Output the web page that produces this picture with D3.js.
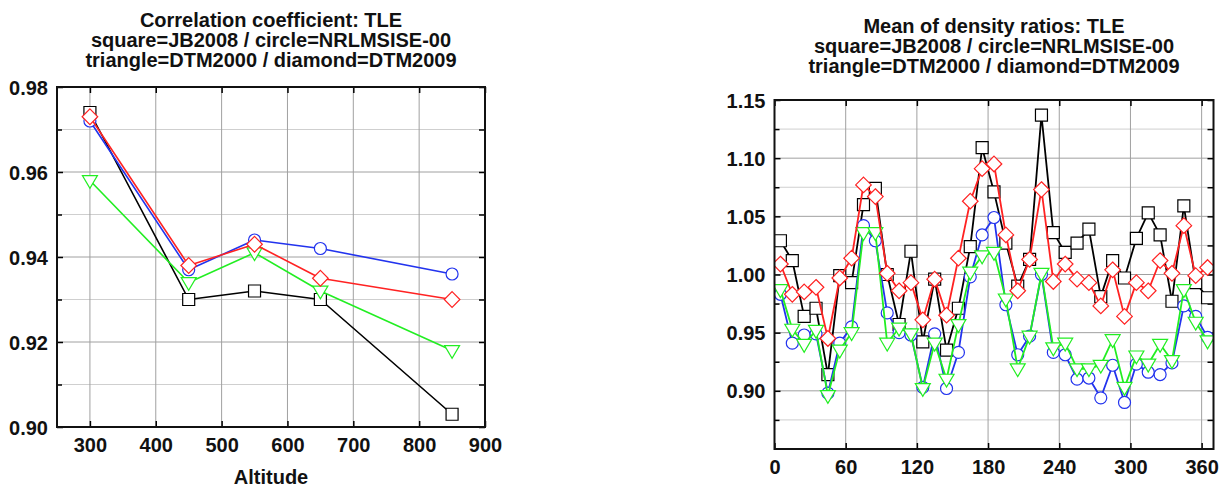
<!DOCTYPE html>
<html><head><meta charset="utf-8">
<script src="https://cdn.jsdelivr.net/npm/d3@7"></script>
<style>
body{margin:0;background:#fff;}
text{font-family:"Liberation Sans",Arial,Helvetica,sans-serif;font-weight:bold;fill:#111;}
</style></head><body>
<svg id="c" width="1224" height="488"></svg>
<script>
// ---- Left chart data: correlation coefficient vs altitude ----
const altitudes = [300, 450, 550, 650, 850];
const corrJB2008 = [0.974, 0.930, 0.932, 0.930, 0.903];
const corrNRLMSISE = [0.972, 0.937, 0.944, 0.942, 0.936];
const corrDTM2000 = [0.958, 0.934, 0.941, 0.932, 0.918];
const corrDTM2009 = [0.973, 0.938, 0.943, 0.935, 0.930];
const leftXTicks = [300, 400, 500, 600, 700, 800, 900];
const leftYTicks = [0.90, 0.92, 0.94, 0.96, 0.98];
const leftYMinor = [0.91, 0.93, 0.95, 0.97];

// ---- Right chart data: mean of density ratios vs angle ----
const angles = [5,15,25,35,45,55,65,75,85,95,105,115,125,135,145,155,165,175,185,195,205,215,225,235,245,255,265,275,285,295,305,315,325,335,345,355,365];
const ratioJB2008 = [1.029,1.012,0.964,0.971,0.914,0.999,0.993,1.060,1.074,1.000,0.957,1.020,0.942,0.996,0.935,0.971,1.024,1.109,1.071,1.027,0.990,1.013,1.137,1.036,1.019,1.027,1.039,0.981,1.012,0.997,1.031,1.053,1.034,0.977,1.059,0.993,0.980];
const ratioNRLMSISE = [0.983,0.941,0.948,0.949,0.898,0.941,0.955,1.042,1.029,0.967,0.950,0.948,0.903,0.949,0.902,0.933,0.998,1.034,1.049,0.974,0.931,0.947,1.000,0.933,0.931,0.910,0.911,0.894,0.922,0.890,0.923,0.916,0.914,0.924,0.973,0.964,0.946];
const ratioDTM2000 = [0.987,0.953,0.940,0.952,0.896,0.935,0.950,1.036,1.036,0.941,0.954,0.949,0.902,0.941,0.910,0.957,1.002,1.016,1.019,0.979,0.919,0.947,1.001,0.937,0.941,0.919,0.919,0.922,0.944,0.903,0.930,0.923,0.940,0.926,0.987,0.959,0.943];
const ratioDTM2009 = [1.009,0.983,0.985,0.989,0.945,0.997,1.014,1.077,1.067,1.001,0.986,0.993,0.961,0.996,0.965,1.014,1.063,1.091,1.095,1.034,0.986,1.013,1.073,0.994,1.009,0.996,0.993,0.973,1.004,0.964,0.993,0.986,1.012,1.001,1.042,0.999,1.006];
const rightXTicks = [0, 60, 120, 180, 240, 300, 360];
const rightYTicks = [0.90, 0.95, 1.00, 1.05, 1.10, 1.15];
const rightYMinor = [0.875, 0.925, 0.975, 1.025, 1.075, 1.125];

const titleLines = ["square=JB2008 / circle=NRLMSISE-00", "triangle=DTM2000 / diamond=DTM2009"];

const svg = d3.select("#c");

// marker shapes
function markerPath(shape, s) {
  if (shape === "square") return `M${-s},${-s}H${s}V${s}H${-s}Z`;
  if (shape === "circle") return `M${s},0A${s},${s} 0 1,1 ${-s},0A${s},${s} 0 1,1 ${s},0Z`;
  if (shape === "diamond") { const r = s * 1.3; return `M0,${-r}L${r},0L0,${r}L${-r},0Z`; }
  if (shape === "tri") { const w = s * 1.25, h = s * 1.1; return `M${-w},${-h*0.75}L${w},${-h*0.75}L0,${h*1.2}Z`; }
}

function drawPanel(opt) {
  const x = d3.scaleLinear().domain(opt.xDomain).range(opt.xRange);
  const y = d3.scaleLinear().domain(opt.yDomain).range(opt.yRange);
  const [x0, x1] = opt.xRange, [y0, y1] = opt.yRange; // y0 bottom, y1 top
  const g = svg.append("g");

  g.append("g").selectAll("line").data(opt.yMinor).join("line")
    .attr("x1", x0).attr("x2", x1).attr("y1", d => y(d)).attr("y2", d => y(d))
    .attr("stroke", "#cfcfcf").attr("stroke-width", 1);
  g.append("g").selectAll("line").data(opt.yTicks).join("line")
    .attr("x1", x0).attr("x2", x1).attr("y1", d => y(d)).attr("y2", d => y(d))
    .attr("stroke", "#a0a0a0").attr("stroke-width", 1);
  g.append("g").selectAll("line").data(opt.xTicks).join("line")
    .attr("x1", d => x(d)).attr("x2", d => x(d)).attr("y1", y0).attr("y2", y1)
    .attr("stroke", "#a0a0a0").attr("stroke-width", 1);

  const tickStyle = s => s.call(a => a.select(".domain").remove())
    .call(a => a.selectAll("line").attr("stroke", "#000").attr("stroke-width", 1.5));
  const yAll = opt.yTicks.concat(opt.yMinor);
  g.append("g").attr("transform", `translate(0,${y0})`)
    .call(d3.axisBottom(x).tickValues(opt.xTicks).tickSize(-6).tickFormat(d => d))
    .call(tickStyle)
    .call(a => a.selectAll("text").attr("dy", null).attr("y", 25).attr("font-size", 20).attr("fill", "#111").attr("font-family", null));
  g.append("g").attr("transform", `translate(0,${y1})`)
    .call(d3.axisTop(x).tickValues(opt.xTicks).tickSize(-6).tickFormat(""))
    .call(tickStyle);
  g.append("g").attr("transform", `translate(${x0},0)`)
    .call(d3.axisLeft(y).tickValues(opt.yTicks).tickSize(-6).tickFormat(d3.format(".2f")))
    .call(tickStyle)
    .call(a => a.selectAll("text").attr("x", -9).attr("dy", "0.35em").attr("font-size", 20).attr("fill", "#111").attr("font-family", null));
  g.append("g").attr("transform", `translate(${x0},0)`)
    .call(d3.axisLeft(y).tickValues(opt.yMinor).tickSize(-5).tickFormat(""))
    .call(tickStyle);
  g.append("g").attr("transform", `translate(${x1},0)`)
    .call(d3.axisRight(y).tickValues(yAll).tickSize(-6).tickFormat(""))
    .call(tickStyle);

  const cid = "clip" + opt.id;
  svg.append("clipPath").attr("id", cid).append("rect")
    .attr("x", x0).attr("y", y1).attr("width", x1 - x0).attr("height", y0 - y1);
  const pg = g.append("g").attr("clip-path", `url(#${cid})`);

  opt.series.forEach(s => {
    const pts = opt.xs.map((d, i) => [d, s.values[i]]);
    pg.append("path").datum(pts)
      .attr("fill", "none").attr("stroke", s.color).attr("stroke-width", opt.lw)
      .attr("stroke-linejoin", "round")
      .attr("d", d3.line().x(d => x(d[0])).y(d => y(d[1])));
    pg.append("g").selectAll("path").data(pts).join("path")
      .attr("transform", d => `translate(${x(d[0])},${y(d[1])})`)
      .attr("d", markerPath(s.shape, opt.ms))
      .attr("fill", "#fff").attr("stroke", s.color).attr("stroke-width", 1.2);
  });

  g.append("rect").attr("x", x0).attr("y", y1).attr("width", x1 - x0).attr("height", y0 - y1)
    .attr("fill", "none").attr("stroke", "#111").attr("stroke-width", 2);

  const cx = (x0 + x1) / 2;
  [opt.title].concat(titleLines).forEach((t, i) => {
    svg.append("text").attr("x", cx).attr("y", opt.titleY + i * 20)
      .attr("text-anchor", "middle").attr("font-size", 20).text(t);
  });
  if (opt.xLabel) {
    svg.append("text").attr("x", cx).attr("y", opt.xLabelY).attr("text-anchor", "middle")
      .attr("font-size", 20).text(opt.xLabel);
  }
}

drawPanel({
  id: "L", xDomain: [250, 900], xRange: [57, 485], yDomain: [0.90, 0.98], yRange: [427, 87],
  xTicks: leftXTicks, yTicks: leftYTicks, yMinor: leftYMinor, xs: altitudes, lw: 1.6, ms: 6,
  title: "Correlation coefficient: TLE", titleY: 27, xLabel: "Altitude", xLabelY: 484,
  series: [
    {values: corrJB2008, color: "#000", shape: "square"},
    {values: corrNRLMSISE, color: "#2233ee", shape: "circle"},
    {values: corrDTM2000, color: "#22ee22", shape: "tri"},
    {values: corrDTM2009, color: "#ff2222", shape: "diamond"}
  ]
});

drawPanel({
  id: "R", xDomain: [0, 370], xRange: [774.5, 1213.5], yDomain: [0.85, 1.15], yRange: [449, 100],
  xTicks: rightXTicks, yTicks: rightYTicks, yMinor: rightYMinor, xs: angles, lw: 1.8, ms: 6,
  title: "Mean of density ratios: TLE", titleY: 33, xLabel: null,
  series: [
    {values: ratioJB2008, color: "#000", shape: "square"},
    {values: ratioNRLMSISE, color: "#2233ee", shape: "circle"},
    {values: ratioDTM2000, color: "#22ee22", shape: "tri"},
    {values: ratioDTM2009, color: "#ff2222", shape: "diamond"}
  ]
});
</script></body></html>
